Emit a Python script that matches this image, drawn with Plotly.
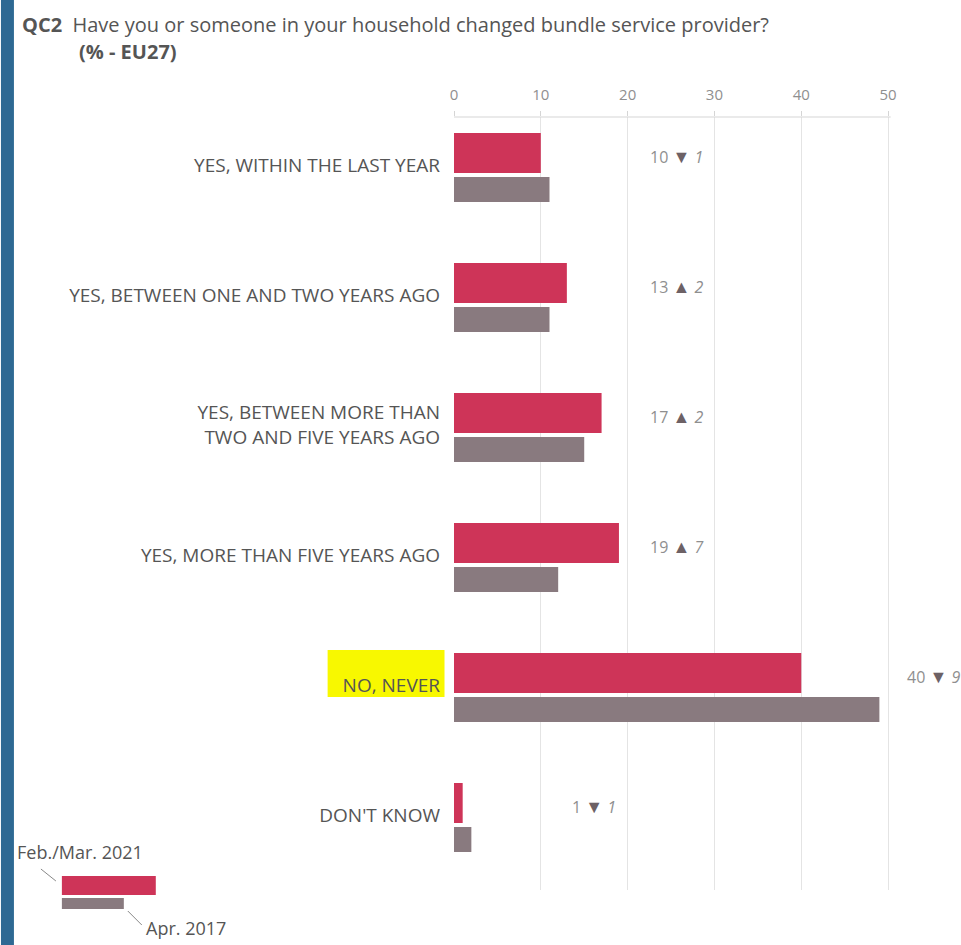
import plotly.graph_objects as go

# ---- data ----
categories = [
    "YES, WITHIN THE LAST YEAR",
    "YES, BETWEEN ONE AND TWO YEARS AGO",
    "YES, BETWEEN MORE THAN<br>TWO AND FIVE YEARS AGO",
    "YES, MORE THAN FIVE YEARS AGO",
    "NO, NEVER",
    "DON'T KNOW",
]
values_2021 = [10, 13, 17, 19, 40, 1]
values_2017 = [11, 11, 15, 12, 49, 2]
series_names = ["Feb./Mar. 2021", "Apr. 2017"]
tick_values = [0, 10, 20, 30, 40, 50]

# ---- layout / style ----
RED = "#ce3458"
GREY = "#897a7f"
FONT = "Open Sans"
W, H = 961, 945
L, T, B = 453.5, 117, 890   # plot area pixel bounds
PX_PER_UNIT = (888 - 453.5) / 50
XMAX = (W - L) / PX_PER_UNIT
ROW = 130.0
C0 = 165.0

def px(p):
    return (p - L) / (W - L)

def py(p):
    return (B - p) / (B - T)

label_x = [22.3, 22.3, 22.3, 22.3, 52.0, 13.4]

fig = go.Figure()
fig.add_trace(go.Bar(
    y=categories, x=values_2021, orientation="h", name=series_names[0],
    marker=dict(color=RED, line=dict(width=0)),
    width=40 / ROW, offset=(133 - C0) / ROW, hoverinfo="skip",
))
fig.add_trace(go.Bar(
    y=categories, x=values_2017, orientation="h", name=series_names[1],
    marker=dict(color=GREY, line=dict(width=0)),
    width=25 / ROW, offset=(177 - C0) / ROW, hoverinfo="skip",
))

annotations = []
for i, (a, b) in enumerate(zip(values_2021, values_2017)):
    d = a - b
    tri = "▲" if d > 0 else "▼"
    txt = (f"{a} <span style='color:#6d6165;font-size:18px'>{tri}</span> <i>{abs(d)}</i>")
    annotations.append(dict(
        x=label_x[i], y=i - 0.07, xref="x", yref="y", text=txt,
        showarrow=False, xanchor="left", yanchor="middle",
        font=dict(family=FONT, size=16, color="#8f8f8f"),
    ))

# title
annotations.append(dict(
    x=px(19), y=py(25), xref="paper", yref="paper", xanchor="left", yanchor="middle",
    text="<b>QC2</b>  Have you or someone in your household changed bundle service provider?",
    showarrow=False, font=dict(family=FONT, size=20, color="#555555"),
))
annotations.append(dict(
    x=px(76), y=py(52), xref="paper", yref="paper", xanchor="left", yanchor="middle",
    text="<b>(% - EU27)</b>", showarrow=False,
    font=dict(family=FONT, size=20, color="#555555"),
))
# legend texts
annotations.append(dict(
    x=px(14), y=py(852), xref="paper", yref="paper", xanchor="left", yanchor="middle",
    text=series_names[0], showarrow=False,
    font=dict(family=FONT, size=18, color="#555555"),
))
annotations.append(dict(
    x=px(143), y=py(928), xref="paper", yref="paper", xanchor="left", yanchor="middle",
    text=series_names[1], showarrow=False,
    font=dict(family=FONT, size=18, color="#555555"),
))

shapes = [
    # left blue strip
    dict(type="rect", xref="paper", yref="paper", x0=px(0), x1=px(13), y0=py(0), y1=py(H),
         fillcolor="#2e6993", line=dict(width=0), layer="below"),
    # yellow highlight
    dict(type="rect", xref="paper", yref="paper", x0=px(327), x1=px(444), y0=py(650), y1=py(697),
         fillcolor="#f8f800", line=dict(width=0), layer="below"),
    # top axis line
    dict(type="line", xref="x", yref="paper", x0=-0.3, x1=50.3, y0=1, y1=1,
         line=dict(color="#d5d5d5", width=1)),
    # legend swatches
    dict(type="rect", xref="paper", yref="paper", x0=px(61), x1=px(155), y0=py(876), y1=py(895),
         fillcolor=RED, line=dict(width=0)),
    dict(type="rect", xref="paper", yref="paper", x0=px(61), x1=px(123), y0=py(898), y1=py(909),
         fillcolor=GREY, line=dict(width=0)),
    dict(type="line", xref="paper", yref="paper", x0=px(40), x1=px(55), y0=py(869), y1=py(881),
         line=dict(color="#888888", width=1)),
    dict(type="line", xref="paper", yref="paper", x0=px(127), x1=px(141), y0=py(911), y1=py(925),
         line=dict(color="#888888", width=1)),
]

fig.update_layout(
    width=W, height=H,
    margin=dict(l=L, r=0, t=T, b=H - B, pad=0),
    paper_bgcolor="white", plot_bgcolor="white",
    barmode="overlay", showlegend=False, hovermode=False,
    font=dict(family=FONT, color="#555555"),
    annotations=annotations, shapes=shapes,
    xaxis=dict(
        side="top", range=[0, XMAX], tickvals=tick_values,
        showgrid=True, gridcolor="#e4e4e4", gridwidth=1, zeroline=False,
        showline=False, ticks="outside", ticklen=5, tickcolor="#d5d5d5",
        ticklabelstandoff=5,
        tickfont=dict(family=FONT, size=15, color="#8f8f8f"),
        fixedrange=True,
    ),
    yaxis=dict(
        type="category", categoryorder="array", categoryarray=categories,
        range=[5 + (B - (C0 + 5 * ROW)) / ROW, -(C0 - T) / ROW],
        showgrid=False, zeroline=False, showline=False, ticks="",
        ticklabelstandoff=13,
        tickfont=dict(family=FONT, size=19, color="#555555"),
        fixedrange=True,
    ),
)

fig.write_html(
    "out.html",
    config={"displayModeBar": False},
    post_script="document.body.style.margin='0';document.body.style.padding='0';",
)
